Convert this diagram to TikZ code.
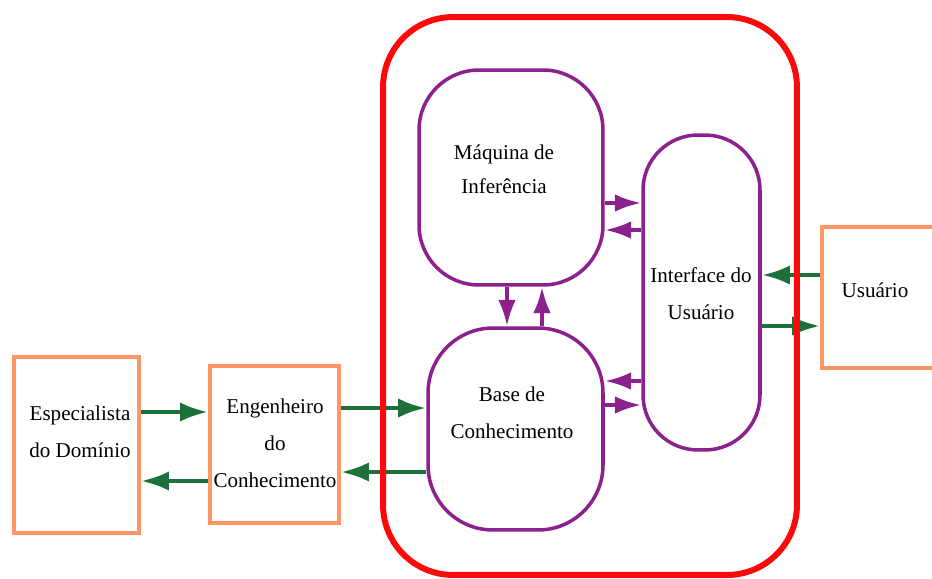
\documentclass[tikz,border=0pt]{standalone}
\usepackage{fontspec}
\setmainfont{Liberation Serif}
\usetikzlibrary{arrows.meta}
\definecolor{vermelho}{RGB}{250,10,10}
\definecolor{roxo}{RGB}{140,32,140}
\definecolor{verde}{RGB}{28,112,58}
\definecolor{laranja}{RGB}{255,150,100}
\begin{document}
\begin{tikzpicture}[
        x=0.02cm, y=-0.02cm,
        sistema/.style={draw=vermelho, line width=3.4pt, rounded corners=1.4cm, inner sep=0pt},
        modulo/.style={draw=roxo, line width=2pt, rounded corners=1.2cm, inner sep=0pt},
        ator/.style={draw=laranja, line width=2pt, inner sep=0pt},
        txt/.style={align=center, font=\fontsize{12}{21}\selectfont},
        fluxo/.style={->, draw=roxo, line width=2.2pt},
        seta/.style={-{Latex[length=16pt,width=11pt]}, draw=verde, line width=2.6pt},
        >={Latex[length=15pt,width=10pt]}
    ]
        \clip (0,0) rectangle (932,578);

        % Actors outside the system
        \node[ator, minimum width=2.5cm, minimum height=3.52cm] (ed) at (76.5,445) {};
        \node[ator, minimum width=2.58cm, minimum height=3.14cm] (ec) at (274.5,444.5) {};
        \node[ator, minimum width=2.76cm, minimum height=2.82cm] (us) at (891,297.5) {};
        \node[txt] (edt) at (80,432) {Especialista\\do Domínio};
        \node[txt] (ect) at (275,443) {Engenheiro\\do\\Conhecimento};
        \node[txt] (ust) at (875,290) {Usuário};

        % Modules of the system
        \node[modulo, minimum width=3.68cm, minimum height=4.3cm] (mi) at (511,177.5) {};
        \node[modulo, minimum width=3.5cm, minimum height=4.04cm, rounded corners=1.3cm] (bc) at (515.5,429) {};
        \node[modulo, minimum width=2.34cm, minimum height=6.3cm, rounded corners=1.1cm] (iu) at (701.5,292.5) {};
        \node[txt, font=\fontsize{12}{19.5}\selectfont] (mit) at (504,169) {Máquina de\\Inferência};
        \node[txt] (bct) at (512,413) {Base de\\Conhecimento};
        \node[txt] (iut) at (701,294) {Interface do\\Usuário};

        % Purple arrows between the modules
        \draw[fluxo] (mi.east |- 0,203) -- (iu.west |- 0,203);
        \draw[fluxo] (iu.west |- 0,230) -- (mi.east |- 0,230);
        \draw[fluxo] (mi.south -| 507,0) -- (bc.north -| 507,0);
        \draw[fluxo] (bc.north -| 542,0) -- (mi.south -| 542,0);
        \draw[fluxo] (iu.west |- 0,381) -- (bc.east |- 0,381);
        \draw[fluxo] (bc.east |- 0,405) -- (iu.west |- 0,405);

        % Green arrows to and from the actors
        \draw[seta] (ed.east |- 0,412) -- (ec.west |- 0,412);
        \draw[seta] (ec.west |- 0,481) -- (ed.east |- 0,481);
        \draw[seta] (ec.east |- 0,408) -- (bc.west |- 0,408);
        \draw[seta] (bc.west |- 0,472) -- (ec.east |- 0,472);
        \draw[seta] (us.west |- 0,275) -- (iu.east |- 0,275);
        \draw[seta] (iu.east |- 0,326) -- (us.west |- 0,326);

        % System border on top
        \node[sistema, minimum width=8.28cm, minimum height=11.16cm] (se) at (590,296) {};
    \end{tikzpicture}
\end{document}
